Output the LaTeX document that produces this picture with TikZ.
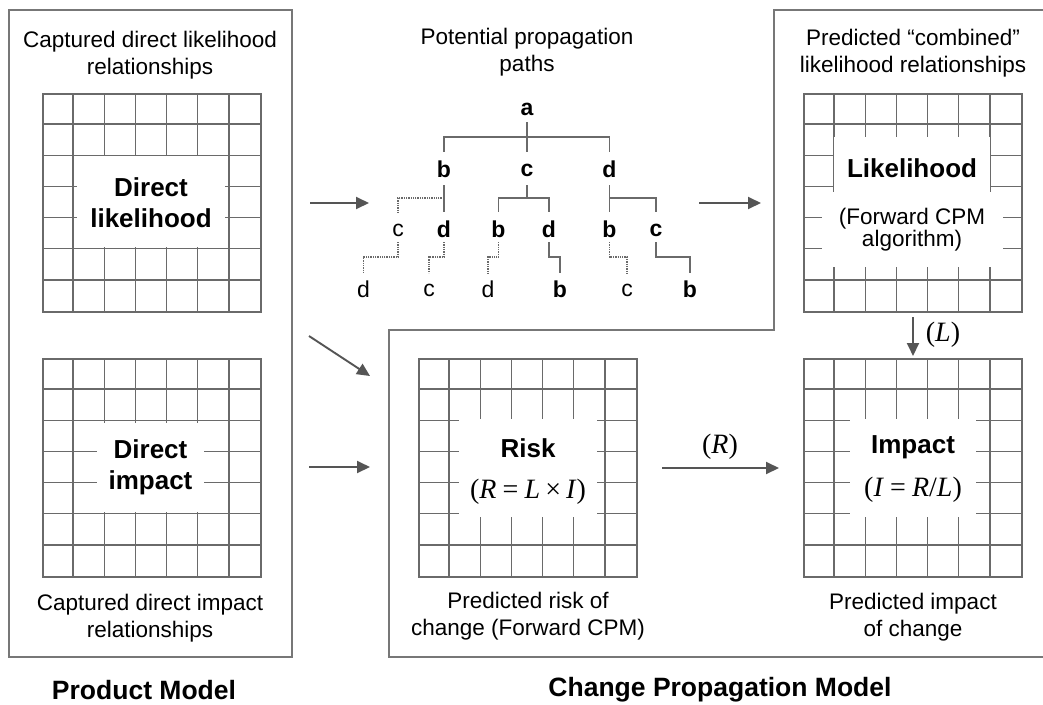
\documentclass[tikz,border=0pt]{standalone}
\usepackage{fontspec}
\setmainfont{Liberation Sans}
\newfontfamily\formulafont{Liberation Serif}
\usetikzlibrary{calc,arrows.meta}

\definecolor{frameclr}{HTML}{777777}
\definecolor{gridclr}{HTML}{6A6A6A}
\definecolor{arrowclr}{HTML}{555555}

\tikzset{
  frame/.style={draw=frameclr, line width=1.5pt},
  gridline/.style={draw=gridclr, line width=1.5pt},
  matframe/.style={draw=gridclr, line width=1.6pt, minimum width=218pt, minimum height=218pt, inner sep=0pt, anchor=north west},
  cover/.style={fill=white, inner sep=0pt},
  caption/.style={font=\fontsize{22.5}{27}\selectfont, align=center, inner sep=0pt},
  inlabel/.style={font=\fontsize{26}{31}\selectfont\bfseries, align=center, inner sep=0pt},
  sublabel/.style={font=\fontsize{22.5}{22.5}\selectfont, align=center, inner sep=0pt},
  formula/.style={font=\fontsize{28}{30}\formulafont, inner sep=0pt},
  modeltitle/.style={font=\fontsize{26.5}{31}\selectfont\bfseries, inner sep=0pt},
  flow/.style={draw=arrowclr, line width=1.9pt, -{Triangle[length=13pt,width=12pt]}},
  treelink/.style={draw=gridclr, line width=1.6pt},
  weaklink/.style={draw=gridclr, line width=1.3pt, densely dotted},
  tbold/.style={font=\fontsize{23}{23}\selectfont\bfseries, inner sep=0pt},
  tplain/.style={font=\fontsize{23}{23}\selectfont, inner sep=0pt},
}

% 7 x 7 matrix: name, left x, top y
\newcommand\drawmatrix[3]{%
  \node[matframe] (#1) at (#2,#3) {};
  \foreach \k in {1,...,6} {
    \draw[gridline] ($(#1.north west)+(\k*218/7,0)$) -- ($(#1.south west)+(\k*218/7,0)$);
    \draw[gridline] ($(#1.north west)+(0,\k*218/7)$) -- ($(#1.north east)+(0,\k*218/7)$);
  }%
}

\begin{document}
\begin{tikzpicture}[x=1pt,y=-1pt]
\useasboundingbox (0,0) rectangle (1043,704);
\fill[white] (0,0) rectangle (1043,704);

% outer frames of the two models
\draw[frame] (9,10) rectangle (292,657);
\draw[frame] (1043,10) -- (774,10) -- (774,330) -- (389,330) -- (389,657) -- (1043,657);

% ---------- product model ----------
\node[caption] (capL) at (150,55) {Captured direct likelihood\\relationships};
\drawmatrix{DL}{42}{93}
\node[cover, minimum width=148pt, minimum height=91pt] (DLc) at (151,201.5) {};
\node[inlabel] (DLt) at (151,202.5) {Direct\\likelihood};

\drawmatrix{DI}{42}{358}
\node[cover, minimum width=107pt, minimum height=89pt] (DIc) at (150.5,467.5) {};
\node[inlabel] (DIt) at (150.5,467.5) {Direct\\impact};
\node[caption] (capI) at (150,618) {Captured direct impact\\relationships};

% ---------- propagation tree ----------
\node[caption] (capT) at (527,52) {Potential propagation\\paths};
\node[tbold] (a) at (527,109) {a};
\node[tbold] (b1) at (444,169) {b};
\node[tbold] (c1) at (527,170) {c};
\node[tbold] (d1) at (609.5,169) {d};
\node[tplain] (c2) at (398,230) {c};
\node[tbold] (d2) at (444,229) {d};
\node[tbold] (b3) at (498.5,229) {b};
\node[tbold] (d3) at (549,229) {d};
\node[tbold] (b4) at (609.5,229) {b};
\node[tbold] (c4) at (656,230) {c};
\node[tplain] (d5) at (363.5,289) {d};
\node[tplain] (c5) at (429,290) {c};
\node[tplain] (d6) at (488,289) {d};
\node[tbold] (b6) at (560,289) {b};
\node[tplain] (c7) at (627,290) {c};
\node[tbold] (b7) at (690,289) {b};

\draw[treelink] ($(a)+(0,13)$) -- ($(c1)+(0,-18)$);
\draw[treelink] ($(a)+(0,28)$) -| ($(b1)+(0,-17)$);
\draw[treelink] ($(a)+(0,28)$) -| ($(d1)+(0,-17)$);

\draw[treelink] ($(b1)+(0,16)$) -- ($(d2)+(0,-17)$);
\draw[weaklink] ($(b1)+(0,29)$) -| ($(c2)+(0,-18)$);
\draw[treelink] ($(c1)+(0,15)$) -- ($(c1)+(0,28)$) -| ($(b3)+(0,-17)$);
\draw[treelink] ($(c1)+(0,28)$) -| ($(d3)+(0,-17)$);
\draw[treelink] ($(d1)+(0,16)$) -- ($(b4)+(0,-17)$);
\draw[treelink] ($(d1)+(0,29)$) -| ($(c4)+(0,-18)$);

\draw[weaklink] ($(c2)+(0,12)$) -- ($(c2)+(0,27)$) -| ($(d5)+(0,-16)$);
\draw[weaklink] ($(d2)+(0,13)$) -- ($(d2)+(0,28)$) -| ($(c5)+(0,-17)$);
\draw[weaklink] ($(b3)+(0,13)$) -- ($(b3)+(0,28)$) -| ($(d6)+(0,-16)$);
\draw[treelink] ($(d3)+(0,13)$) -- ($(d3)+(0,28)$) -| ($(b6)+(0,-16)$);
\draw[weaklink] ($(b4)+(0,13)$) -- ($(b4)+(0,28)$) -| ($(c7)+(0,-17)$);
\draw[treelink] ($(c4)+(0,12)$) -- ($(c4)+(0,27)$) -| ($(b7)+(0,-16)$);

% ---------- change propagation model ----------
\node[caption] (capC) at (913,53.5) {Predicted “combined”\\likelihood relationships};
\drawmatrix{LK}{803}{93}
\node[cover, minimum width=156pt, minimum height=63pt] (LKc1) at (911.5,168.5) {};
\node[cover, minimum width=181pt, minimum height=75pt] (LKc2) at (912.5,229.5) {};
\node[inlabel] (LKt) at (912,168) {Likelihood};
\node[sublabel] (LKs) at (912,229.5) {(Forward CPM\\algorithm)};

\drawmatrix{RK}{418}{358}
\node[cover, minimum width=138pt, minimum height=98pt] (RKc) at (528,468) {};
\node[inlabel] (RKt) at (528,448) {Risk};
\node[formula] (RKf) at (528,492) {(\textit{R}\hspace{0.22em}=\hspace{0.22em}\textit{L}\hspace{0.18em}×\hspace{0.18em}\textit{I})};
\node[caption] (capR) at (528,616.5) {Predicted risk of\\change (Forward CPM)};

\drawmatrix{IM}{803}{358}
\node[cover, minimum width=126pt, minimum height=98pt] (IMc) at (913,468) {};
\node[inlabel] (IMt) at (913,447) {Impact};
\node[formula] (IMf) at (913,490) {(\textit{I}\hspace{0.22em}=\hspace{0.22em}\textit{R}/\textit{L})};
\node[caption] (capM) at (913,617.5) {Predicted impact\\of change};

% ---------- flows ----------
\coordinate (f1s) at (310,203);
\coordinate (f1e) at (369,203);
\draw[flow] (f1s) -- (f1e);
\coordinate (f2s) at (699,203);
\coordinate (f2e) at (761,203);
\draw[flow] (f2s) -- (f2e);
\coordinate (f3s) at (309,336);
\coordinate (f3e) at (370,376);
\draw[flow] (f3s) -- (f3e);
\coordinate (f4s) at (309,467);
\coordinate (f4e) at (370,467);
\draw[flow] (f4s) -- (f4e);
\coordinate (f5s) at (662,468);
\coordinate (f5e) at (779,468);
\draw[flow] (f5s) -- (f5e);
\node[formula] (Rlab) at (720,447) {(\textit{R})};
\coordinate (f6s) at (913,317);
\coordinate (f6e) at (913,356);
\draw[flow] (f6s) -- (f6e);
\node[formula] (Llab) at (943,335) {(\textit{L})};

% ---------- model titles ----------
\node[modeltitle] (tP) at (144,690) {Product Model};
\node[modeltitle] (tC) at (720,690) {Change Propagation Model};
\end{tikzpicture}
\end{document}
